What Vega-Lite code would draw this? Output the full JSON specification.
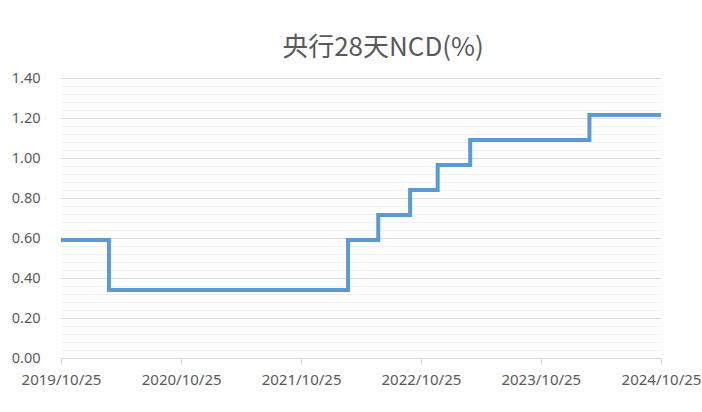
{
  "$schema": "https://vega.github.io/schema/vega-lite/v6.json",
  "autosize": "none",
  "width": 600,
  "height": 280,
  "padding": {"left": 61, "top": 78, "right": 41, "bottom": 54},
  "background": "white",
  "title": {
    "text": "央行28天NCD(%)",
    "font": "Noto Sans CJK TC",
    "fontSize": 26,
    "fontWeight": "normal",
    "color": "#595959",
    "anchor": "middle",
    "dx": 22,
    "offset": 9
  },
  "config": {
    "view": {"stroke": null},
    "axis": {"labelFont": "Noto Sans", "labelColor": "#595959"}
  },
  "data": {
    "values": [
      {"date": "2019-10-25", "rate": 0.59},
      {"date": "2020-03-19", "rate": 0.34},
      {"date": "2022-03-17", "rate": 0.59},
      {"date": "2022-06-17", "rate": 0.715},
      {"date": "2022-09-22", "rate": 0.84},
      {"date": "2022-12-15", "rate": 0.965},
      {"date": "2023-03-24", "rate": 1.09},
      {"date": "2024-03-21", "rate": 1.215},
      {"date": "2024-10-25", "rate": 1.215}
    ]
  },
  "mark": {"type": "line", "interpolate": "step-after", "color": "#5B9BD5", "strokeWidth": 4, "strokeJoin": "miter", "strokeCap": "butt"},
  "encoding": {
    "x": {
      "field": "date",
      "type": "temporal",
      "scale": {
        "type": "utc",
        "domain": [
          {"year": 2019, "month": 10, "date": 25, "utc": true},
          {"year": 2024, "month": 10, "date": 25, "utc": true}
        ]
      },
      "axis": {
        "title": null,
        "values": [
          {"year": 2019, "month": 10, "date": 25, "utc": true},
          {"year": 2020, "month": 10, "date": 25, "utc": true},
          {"year": 2021, "month": 10, "date": 25, "utc": true},
          {"year": 2022, "month": 10, "date": 25, "utc": true},
          {"year": 2023, "month": 10, "date": 25, "utc": true},
          {"year": 2024, "month": 10, "date": 25, "utc": true}
        ],
        "labelExpr": "utcFormat(datum.value, '%Y/%m/%d')",
        "labelFontSize": 15,
        "grid": false,
        "domainColor": "#d9d9d9",
        "tickColor": "#d9d9d9",
        "tickSize": 6,
        "labelPadding": 8,
        "labelFlush": false,
        "labelOverlap": false
      }
    },
    "y": {
      "field": "rate",
      "type": "quantitative",
      "scale": {"domain": [0, 1.4], "nice": false, "zero": true},
      "axis": {
        "title": null,
        "values": [0, 0.04, 0.08, 0.12, 0.16, 0.2, 0.24, 0.28, 0.32, 0.36, 0.4, 0.44, 0.48, 0.52, 0.56, 0.6, 0.64, 0.68, 0.72, 0.76, 0.8, 0.84, 0.88, 0.92, 0.96, 1.0, 1.04, 1.08, 1.12, 1.16, 1.2, 1.24, 1.28, 1.32, 1.36, 1.4],
        "labelExpr": "round(datum.value * 100) % 20 === 0 ? format(datum.value, '.2f') : ''",
        "labelFontSize": 14.5,
        "domain": false,
        "ticks": false,
        "tickSize": 0,
        "labelPadding": 21,
        "labelOverlap": false,
        "labelFlush": false,
        "gridColor": {
          "condition": {"test": "round(datum.value * 100) % 20 === 0", "value": "#d9d9d9"},
          "value": "#f0f0f0"
        },
        "gridWidth": 1
      }
    }
  }
}
